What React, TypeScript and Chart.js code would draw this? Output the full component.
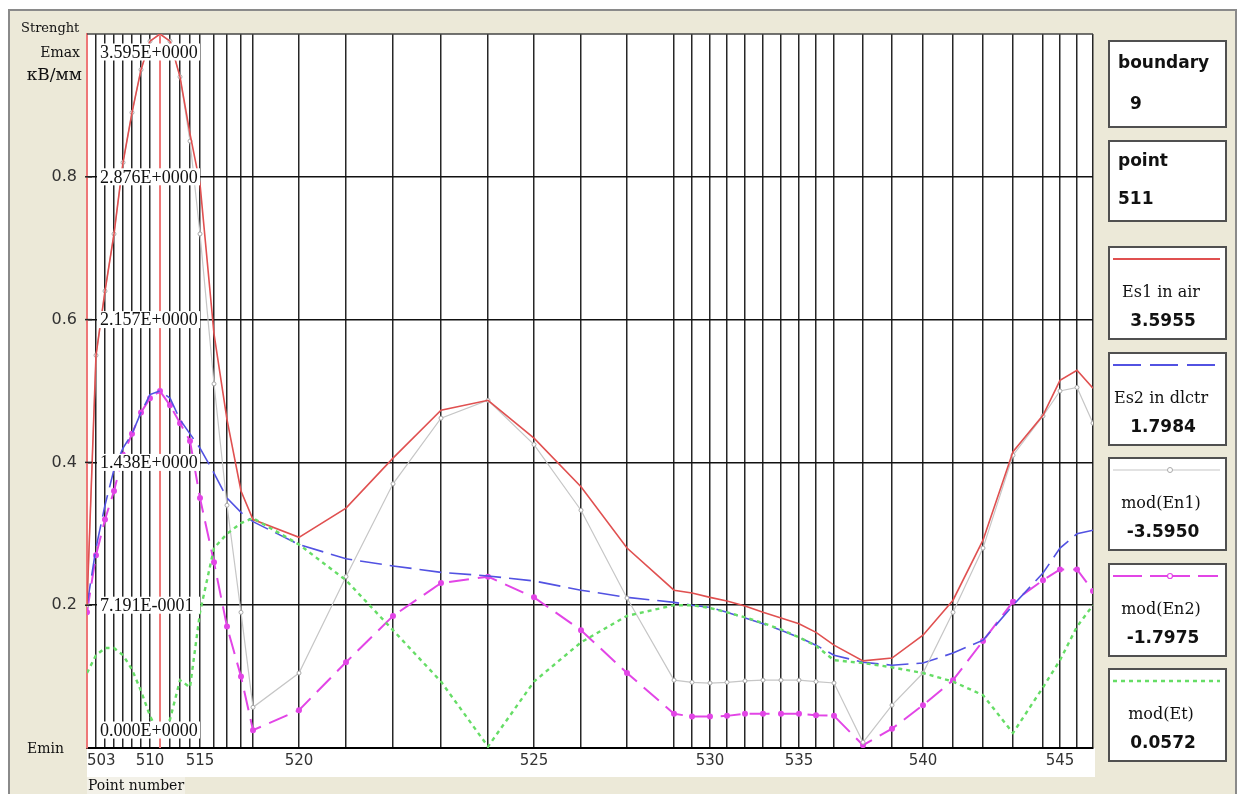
import React, { useEffect, useRef } from 'react';
import { Chart, registerables } from 'chart.js';

Chart.register(...registerables);

// Boundary points along boundary 9 and their arc coordinate (mm)
const POINT_NUMBERS = [
  503, 504, 505, 506, 507, 508, 509, 510, 511, 512, 513, 514, 515, 516, 517, 518, 519,
  520, 521, 522, 523, 524, 525, 526, 527, 528, 529, 530, 531, 532, 533, 534, 535, 536,
  537, 538, 539, 540, 541, 542, 543, 544, 545, 546, 547,
];
const ARC_POS = [
  0.0, 0.9, 1.8, 2.7, 3.6, 4.5, 5.4, 6.3, 7.3, 8.3, 9.3, 10.3, 11.3, 12.7, 14.0, 15.4, 16.6,
  21.2, 25.9, 30.6, 35.4, 40.1, 44.7, 49.4, 54.0, 58.7, 60.5, 62.3, 64.0, 65.8, 67.6, 69.4, 71.2, 72.9,
  74.7, 77.6, 80.5, 83.6, 86.6, 89.6, 92.6, 95.6, 97.3, 99.0, 100.6,
];

// Field strengths relative to Emax
const ES1 = [
  0.2, 0.55, 0.64, 0.72, 0.82, 0.89, 0.95, 0.99, 1.0, 0.99, 0.94, 0.86, 0.79, 0.58, 0.46, 0.36, 0.32,
  0.295, 0.336, 0.406, 0.473, 0.487, 0.434, 0.366, 0.28, 0.221, 0.217, 0.211, 0.206, 0.199, 0.19, 0.182, 0.174, 0.162,
  0.144, 0.122, 0.126, 0.158, 0.207, 0.291, 0.415, 0.466, 0.515, 0.529, 0.504,
];
const ES2 = [
  0.2, 0.28, 0.34, 0.39, 0.42, 0.44, 0.47, 0.495, 0.5002, 0.49, 0.46, 0.44, 0.42, 0.385, 0.35, 0.33, 0.317,
  0.285, 0.265, 0.255, 0.246, 0.241, 0.234, 0.221, 0.211, 0.204, 0.2, 0.197, 0.19, 0.182, 0.174, 0.165, 0.155, 0.144,
  0.13, 0.12, 0.116, 0.119, 0.133, 0.151, 0.2, 0.245, 0.28, 0.3, 0.305,
];
const EN1 = [
  0.2, 0.55, 0.64, 0.72, 0.82, 0.89, 0.95, 0.99, 0.9999, 0.99, 0.94, 0.85, 0.72, 0.51, 0.34, 0.19, 0.057,
  0.105, 0.24, 0.37, 0.462, 0.487, 0.425, 0.333, 0.21, 0.095, 0.092, 0.091, 0.092, 0.094, 0.095, 0.095, 0.095, 0.093,
  0.091, 0.008, 0.06, 0.105, 0.19, 0.28, 0.41, 0.465, 0.5, 0.505, 0.455,
];
const EN2 = [
  0.19, 0.27, 0.32, 0.36, 0.41, 0.44, 0.47, 0.49, 0.4999, 0.48, 0.455, 0.43, 0.35, 0.26, 0.17, 0.1, 0.025,
  0.053, 0.12, 0.185, 0.231, 0.24, 0.211, 0.165, 0.105, 0.048, 0.044, 0.044, 0.045, 0.048, 0.048, 0.048, 0.048, 0.046,
  0.045, 0.004, 0.027, 0.06, 0.095, 0.15, 0.205, 0.235, 0.25, 0.25, 0.22,
];
const ET = [
  0.105, 0.13, 0.14, 0.14, 0.13, 0.11, 0.08, 0.045, 0.0159, 0.04, 0.095, 0.085, 0.19, 0.28, 0.3, 0.315, 0.322,
  0.285, 0.235, 0.165, 0.093, 0.002, 0.093, 0.148, 0.185, 0.2, 0.2, 0.196, 0.19, 0.183, 0.175, 0.166, 0.155, 0.143,
  0.123, 0.119, 0.113, 0.105, 0.093, 0.074, 0.021, 0.085, 0.123, 0.17, 0.2,
];

const X_LABELED = [503, 510, 515, 520, 525, 530, 535, 540, 545];
const Y_FRACTIONS = [0.2, 0.4, 0.6, 0.8];
const EMAX = 3.5955;
const BOUNDARY = 9;
const SELECTED_POINT = 511;

const SERIES_NAMES = ['Es1 in air', 'Es2 in dlctr', 'mod(En1)', 'mod(En2)', 'mod(Et)'];
const SERIES_READOUTS = ['3.5955', '1.7984', '-3.5950', '-1.7975', '0.0572'];
const SERIES_COLORS = ['#e05050', '#5252e2', '#c6c6c6', '#e245e6', '#66dd66'];

const W = 1243;
const H = 794;
const PLOT = { left: 87, top: 34, right: 1093, bottom: 748 };

function sciLabel(v: number): string {
  if (v <= 0) return '0.000E+0000';
  const exp = Math.floor(Math.log10(v) + 1e-9);
  const m = v / Math.pow(10, exp);
  const mt = Math.floor(m * 1000 + 1e-6) / 1000;
  return mt.toFixed(3) + 'E' + (exp < 0 ? '-' : '+') + String(Math.abs(exp)).padStart(4, '0');
}

const overlayPlugin = {
  id: 'strengthOverlay',
  beforeDraw(chart: any) {
    const { ctx, chartArea: a } = chart;
    ctx.save();
    ctx.fillStyle = '#ffffff';
    ctx.fillRect(a.left, a.top, a.right - a.left, a.bottom - a.top);
    ctx.restore();
  },
  beforeDatasetsDraw(chart: any) {
    const { ctx, chartArea: a } = chart;
    const xs = chart.scales.x;
    const idx = POINT_NUMBERS.indexOf(SELECTED_POINT);
    const px = xs.getPixelForValue(ARC_POS[idx]);
    ctx.save();
    ctx.strokeStyle = '#ee7777';
    ctx.lineWidth = 2;
    ctx.beginPath();
    ctx.moveTo(px, a.top);
    ctx.lineTo(px, a.bottom);
    ctx.stroke();
    // top border of the plot
    ctx.strokeStyle = '#444';
    ctx.lineWidth = 1.5;
    ctx.beginPath();
    ctx.moveTo(a.left, a.top);
    ctx.lineTo(a.right, a.top);
    ctx.stroke();
    ctx.restore();
  },
  afterDraw(chart: any) {
    const { ctx, chartArea: a } = chart;
    const xs = chart.scales.x;
    const ys = chart.scales.y;
    ctx.save();

    // kV/mm readouts on the left of the plot
    const marks = [0, ...Y_FRACTIONS, 1];
    marks.forEach((f) => {
      let cy = ys.getPixelForValue(f);
      if (f === 1) cy = a.top + 18;
      if (f === 0) cy = a.bottom - 18;
      ctx.fillStyle = '#ffffff';
      ctx.fillRect(a.left + 10, cy - 8.5, 103, 17);
      ctx.fillStyle = '#111';
      ctx.font = '18px "Liberation Serif"';
      ctx.textAlign = 'left';
      ctx.textBaseline = 'middle';
      ctx.fillText(sciLabel(f * EMAX), a.left + 13, cy + 1);
    });

    // relative scale on the left
    Y_FRACTIONS.forEach((f) => {
      const cy = ys.getPixelForValue(f);
      ctx.fillStyle = '#333';
      ctx.font = '16px "DejaVu Sans"';
      ctx.textAlign = 'right';
      ctx.textBaseline = 'middle';
      ctx.fillText(String(f), a.left - 10, cy);
      ctx.strokeStyle = '#222';
      ctx.lineWidth = 1.5;
      ctx.beginPath();
      ctx.moveTo(a.left - 2, cy);
      ctx.lineTo(a.left + 5, cy);
      ctx.stroke();
    });

    // point numbers under the axis
    ctx.font = '15px "DejaVu Sans"';
    ctx.fillStyle = '#333';
    ctx.textBaseline = 'middle';
    X_LABELED.forEach((n) => {
      const i = POINT_NUMBERS.indexOf(n);
      const px = xs.getPixelForValue(ARC_POS[i]);
      const text = String(n);
      const w = ctx.measureText(text).width;
      let x = px - w / 2;
      if (x < a.left) x = a.left;
      if (x + w > a.right) x = a.right - w;
      ctx.textAlign = 'left';
      ctx.fillText(text, x, a.bottom + 13);
    });
    ctx.restore();
  },
};

const serif = '"DejaVu Serif", serif';
const sans = '"DejaVu Sans", sans-serif';

function Label(props: { text: string; left?: number; right?: number; cy: number; size: number; family: string; bold?: boolean; width?: number; center?: boolean }) {
  const lh = Math.round(props.size * 1.3);
  const style: React.CSSProperties = {
    position: 'absolute',
    top: props.cy - lh / 2,
    lineHeight: lh + 'px',
    height: lh,
    fontSize: props.size,
    fontFamily: props.family,
    fontWeight: props.bold ? 'bold' : 'normal',
    whiteSpace: 'nowrap',
    color: '#111',
    zIndex: 3,
  };
  if (props.left !== undefined) style.left = props.left;
  if (props.right !== undefined) { style.right = W - props.right; style.textAlign = 'right'; }
  if (props.center) { style.width = props.width; style.textAlign = 'center'; }
  return <div style={style}>{props.text}</div>;
}

const LEGEND_TOPS = [246, 352, 457, 563, 668];

function Swatch({ i, y }: { i: number; y: number }) {
  const c = SERIES_COLORS[i];
  const common = { position: 'absolute' as const, left: 1113, top: y - 5, zIndex: 3 };
  return (
    <svg width={107} height={10} style={common}>
      {i === 0 && <line x1={0} y1={5} x2={107} y2={5} stroke={c} strokeWidth={2} />}
      {i === 1 && <line x1={0} y1={5} x2={107} y2={5} stroke={c} strokeWidth={2.2} strokeDasharray="28 9" />}
      {i === 2 && (
        <g>
          <line x1={0} y1={5} x2={107} y2={5} stroke={c} strokeWidth={1.2} />
          <circle cx={57} cy={5} r={2.5} fill="#fff" stroke="#aaa" strokeWidth={1} />
        </g>
      )}
      {i === 3 && (
        <g>
          <line x1={0} y1={5} x2={29} y2={5} stroke={c} strokeWidth={2} />
          <line x1={37} y1={5} x2={77} y2={5} stroke={c} strokeWidth={2} />
          <line x1={85} y1={5} x2={105} y2={5} stroke={c} strokeWidth={2} />
          <circle cx={57} cy={5} r={2.5} fill="#fff" stroke={c} strokeWidth={1.2} />
        </g>
      )}
      {i === 4 && <line x1={0} y1={5} x2={107} y2={5} stroke={c} strokeWidth={2.6} strokeDasharray="4 4" />}
    </svg>
  );
}

const boxStyle = (top: number, height: number): React.CSSProperties => ({
  position: 'absolute',
  left: 1108,
  top,
  width: 119,
  height,
  boxSizing: 'border-box',
  background: '#ffffff',
  border: '2px solid #505050',
  zIndex: 2,
});

export default function App() {
  const ref = useRef<HTMLCanvasElement>(null);

  useEffect(() => {
    const canvas = ref.current;
    if (!canvas) return;
    const pts = (vals: number[]) => ARC_POS.map((x, i) => ({ x, y: vals[i] }));
    const chart = new Chart(canvas, {
      type: 'line',
      data: {
        datasets: [
          {
            label: SERIES_NAMES[4], data: pts(ET), borderColor: SERIES_COLORS[4], borderWidth: 2.4,
            borderDash: [4, 4], pointRadius: 0, tension: 0,
          },
          {
            label: SERIES_NAMES[0], data: pts(ES1), borderColor: SERIES_COLORS[0], borderWidth: 1.6,
            pointRadius: 0, tension: 0,
          },
          {
            label: SERIES_NAMES[2], data: pts(EN1), borderColor: SERIES_COLORS[2], borderWidth: 1.2,
            pointRadius: 2, pointBackgroundColor: '#ffffff', pointBorderColor: '#a8a8a8', pointBorderWidth: 1, tension: 0,
          },
          {
            label: SERIES_NAMES[1], data: pts(ES2), borderColor: SERIES_COLORS[1], borderWidth: 1.6,
            borderDash: [22, 8], pointRadius: 0, tension: 0,
          },
          {
            label: SERIES_NAMES[3], data: pts(EN2), borderColor: SERIES_COLORS[3], borderWidth: 2,
            borderDash: [20, 9], pointRadius: 2, pointBackgroundColor: SERIES_COLORS[3],
            pointBorderColor: SERIES_COLORS[3], tension: 0,
          },
        ],
      },
      options: {
        animation: false,
        responsive: false,
        devicePixelRatio: 1,
        events: [],
        layout: {
          padding: { left: PLOT.left, top: PLOT.top, right: W - PLOT.right, bottom: H - PLOT.bottom },
        },
        plugins: { legend: { display: false }, tooltip: { enabled: false } },
        scales: {
          x: {
            type: 'linear',
            min: ARC_POS[0],
            max: ARC_POS[ARC_POS.length - 1],
            afterBuildTicks: (s: any) => {
              s.ticks = ARC_POS.map((v) => ({ value: v }));
            },
            afterFit: (s: any) => {
              s.height = 0;
            },
            ticks: { display: false },
            grid: { color: '#262626', lineWidth: 1.5, drawTicks: false },
            border: { display: true, color: '#000000', width: 2 },
          },
          y: {
            type: 'linear',
            min: 0,
            max: 1,
            afterFit: (s: any) => {
              s.width = 0;
            },
            ticks: { display: false, stepSize: 0.2 },
            grid: {
              color: (c: any) => (c.tick && c.tick.value > 0.001 && c.tick.value < 0.999 ? '#111111' : 'rgba(0,0,0,0)'),
              lineWidth: 1.5,
              drawTicks: false,
            },
            border: { display: true, color: '#ee7777', width: 2 },
          },
        },
      },
      plugins: [overlayPlugin],
    } as any);
    return () => chart.destroy();
  }, []);

  return (
    <div style={{ position: 'fixed', left: 0, top: 0, width: W, height: H, overflow: 'hidden', background: '#ffffff' }}>
      <div
        style={{
          position: 'absolute', left: 8, top: 9, width: 1229, height: 800, boxSizing: 'border-box',
          background: '#ece9d8', borderTop: '2px solid #8a8a8a', borderLeft: '2px solid #8a8a8a', borderRight: '2px solid #8a8a8a',
        }}
      />
      <div style={{ position: 'absolute', left: PLOT.left, top: PLOT.bottom, width: 1008, height: 29, background: '#ffffff' }} />
      <div style={{ position: 'absolute', left: PLOT.left, top: 777, width: 98, height: 17, background: '#f3f1e8' }} />
      <canvas ref={ref} width={W} height={H} style={{ position: 'absolute', left: 0, top: 0, width: W, height: H, zIndex: 1 }} />

      <Label text="Strenght" left={21} cy={27} size={13} family={serif} />
      <Label text="Emax" right={80} cy={52} size={14} family={serif} />
      <Label text="кВ/мм" right={82} cy={74} size={17} family={serif} />
      <Label text="Emin" left={27} cy={748} size={14} family={serif} />
      <Label text="Point number" left={88} cy={785} size={14} family={serif} />

      <div style={boxStyle(40, 88)} />
      <Label text="boundary" left={1118} cy={62} size={17} family={sans} bold />
      <Label text={String(BOUNDARY)} left={1130} cy={103} size={17} family={sans} bold />
      <div style={boxStyle(140, 82)} />
      <Label text="point" left={1118} cy={160} size={17} family={sans} bold />
      <Label text={String(SELECTED_POINT)} left={1118} cy={198} size={17} family={sans} bold />

      {SERIES_NAMES.map((name, i) => {
        const top = LEGEND_TOPS[i];
        const lineY = top + 13;
        return (
          <React.Fragment key={name}>
            <div style={boxStyle(top, 94)} />
            <Swatch i={i} y={lineY} />
            <Label text={name} left={1110} width={102} center cy={lineY + 32} size={16} family={serif} />
            <Label text={SERIES_READOUTS[i]} left={1112} width={102} center cy={lineY + 61} size={17} family={sans} bold />
          </React.Fragment>
        );
      })}
    </div>
  );
}
